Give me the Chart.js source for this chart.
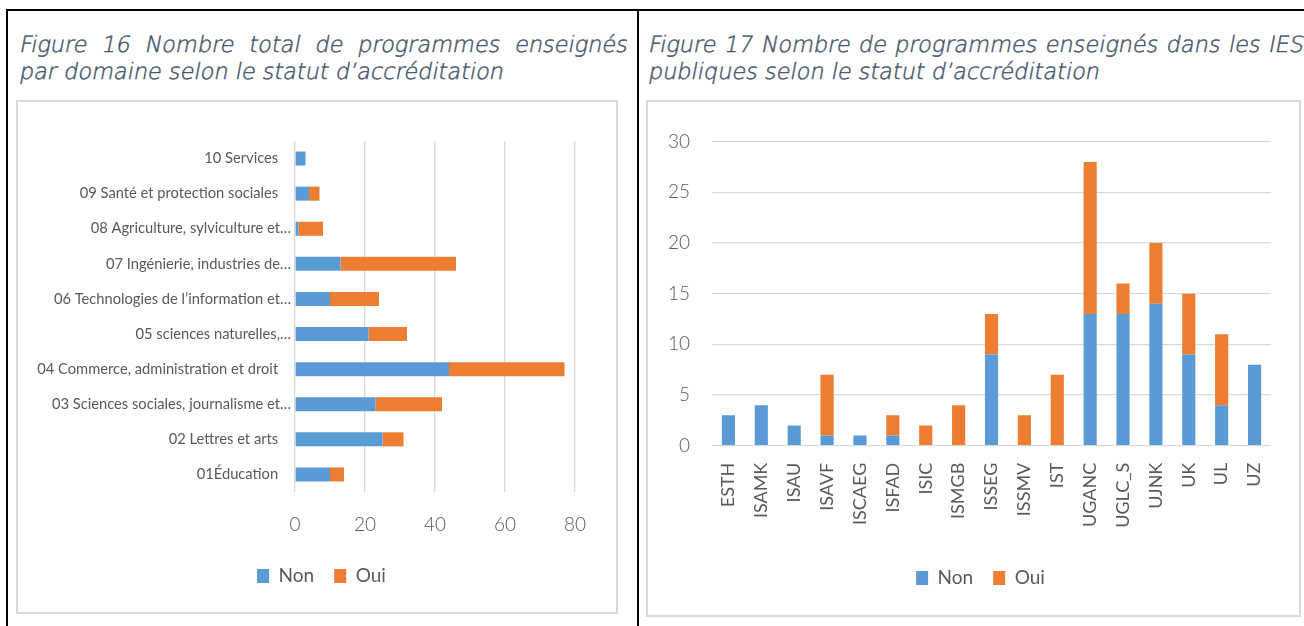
<!DOCTYPE html>
<html><head><meta charset="utf-8">
<script src="https://cdn.jsdelivr.net/npm/chart.js@4.4.1/dist/chart.umd.min.js"></script>
<style>
html,body{margin:0;padding:0;background:#fff;width:1304px;height:626px;overflow:hidden;}
.line{position:absolute;background:#000;}
.box{position:absolute;border:2px solid #D9D9D9;box-sizing:border-box;}
.title{position:absolute;font-family:"DejaVu Sans";font-style:normal;font-weight:200;color:#44546A;-webkit-text-stroke:0.45px #44546A;white-space:nowrap;line-height:1;transform:skewX(-11deg);transform-origin:0 100%;}
.just{text-align:justify;text-align-last:justify;white-space:normal;}
canvas{position:absolute;}
</style></head><body>
<div class="line" style="left:6px;top:9px;width:1298px;height:2px"></div>
<div class="line" style="left:6px;top:9px;width:2px;height:617px"></div>
<div class="line" style="left:637px;top:9px;width:2px;height:617px"></div>
<div class="box" style="left:16px;top:100px;width:602px;height:514px"></div>
<div class="box" style="left:646px;top:100px;width:655px;height:517px"></div>
<div id="t16a" class="title just" style="left:18px;width:608px">Figure 16 Nombre total de programmes enseignés</div>
<div id="t16b" class="title" style="left:18px">par domaine selon le statut d’accréditation</div>
<div id="t17a" class="title just" style="left:647px;width:655px">Figure 17 Nombre de programmes enseignés dans les IES</div>
<div id="t17b" class="title" style="left:647px">publiques selon le statut d’accréditation</div>
<canvas id="c1" width="597" height="509" style="left:18px;top:102px;width:597px;height:509px"></canvas>
<canvas id="c2" width="650" height="512" style="left:648px;top:102px;width:650px;height:512px"></canvas>
<script>
// ---- data ----
const domainLabels = ["01Éducation","02 Lettres et arts","03 Sciences sociales, journalisme et…","04 Commerce, administration et droit","05 sciences naturelles,…","06 Technologies de l’information et…","07 Ingénierie, industries de…","08 Agriculture, sylviculture et…","09 Santé et protection sociales","10 Services"];
const domainNon = [10,25,23,44,21,10,13,1,4,3];
const domainOui = [4,6,19,33,11,14,33,7,3,0];
const domainTicks = [0,20,40,60,80];

const iesLabels = ["ESTH","ISAMK","ISAU","ISAVF","ISCAEG","ISFAD","ISIC","ISMGB","ISSEG","ISSMV","IST","UGANC","UGLC_S","UJNK","UK","UL","UZ"];
const iesNon = [3,4,2,1,1,1,0,0,9,0,0,13,13,14,9,4,8];
const iesOui = [0,0,0,6,0,2,2,4,4,3,7,15,3,6,6,7,0];
const iesTicks = [0,5,10,15,20,25,30];

const seriesNames = ["Non","Oui"];
const colors = ["#5B9BD5","#ED7D31"];

// ---- titles sizing ----
(function(){
  const cx = document.createElement('canvas').getContext('2d');
  cx.font = '200 100px "DejaVu Sans"';
  const w = cx.measureText(document.getElementById('t17a').textContent).width;
  const size = 100*646/w;
  const asc = 0.846*size;
  const set=(id,base)=>{const e=document.getElementById(id);e.style.fontSize=size+'px';e.style.top=(base-asc)+'px';};
  set('t16a',52);set('t16b',79);set('t17a',52);set('t17b',79);
})();

Chart.defaults.font.family = 'Lato';
Chart.defaults.color = '#595959';
Chart.defaults.animation = false;

const grid = '#D9D9D9';
const legendShift = {id:'legendShift', afterLayout(chart, args, opts){
  const l = chart.legend; if (l && opts.dx){ l.left += opts.dx; l.right += opts.dx; }
}};

new Chart(document.getElementById('c1'), {
  type:'bar',
  data:{labels:domainLabels, datasets:[
    {label:seriesNames[0], data:domainNon, backgroundColor:colors[0]},
    {label:seriesNames[1], data:domainOui, backgroundColor:colors[1]}
  ]},
  plugins:[legendShift],
  options:{
    indexAxis:'y', responsive:false, maintainAspectRatio:false,
    datasets:{bar:{categoryPercentage:1, barPercentage:0.4}},
    layout:{padding:{left:0,right:40,top:39,bottom:15.5}},
    plugins:{
      legendShift:{dx:25},
      legend:{position:'bottom', labels:{boxWidth:12, boxHeight:14, padding:20, font:{size:19}, color:'#595959'}},
      tooltip:{enabled:false}
    },
    scales:{
      x:{stacked:true, min:0, max:80,
         afterBuildTicks:s=>{s.ticks=domainTicks.map(v=>({value:v}));},
         afterFit:s=>{s.height=54.5;},
         grid:{color:grid, lineWidth:1.3, drawTicks:false},
         border:{display:false},
         ticks:{padding:21, font:{size:19, weight:300}, color:'#595959'}},
      y:{stacked:true, reverse:true,
         afterFit:s=>{s.width=277;},
         grid:{display:false}, border:{display:false},
         ticks:{padding:-4, font:{size:14.7}, color:'#595959',
           callback:function(v){const l=this.getLabelForValue(v);return l.endsWith('…')?l:l+'\u2003\u2009';}}}
    }
  }
});

new Chart(document.getElementById('c2'), {
  type:'bar',
  data:{labels:iesLabels, datasets:[
    {label:seriesNames[0], data:iesNon, backgroundColor:colors[0]},
    {label:seriesNames[1], data:iesOui, backgroundColor:colors[1]}
  ]},
  plugins:[legendShift],
  options:{
    responsive:false, maintainAspectRatio:false,
    datasets:{bar:{categoryPercentage:1, barPercentage:0.4}},
    layout:{padding:{left:0,right:27,top:39.7,bottom:16.5}},
    plugins:{
      legendShift:{dx:21},
      legend:{position:'bottom', labels:{boxWidth:12, boxHeight:14, padding:20, font:{size:19}, color:'#595959'}},
      tooltip:{enabled:false}
    },
    scales:{
      x:{stacked:true,
         afterFit:s=>{s.height=102.8;},
         grid:{display:false}, border:{display:false},
         ticks:{padding:9, minRotation:90, maxRotation:90, autoSkip:false, font:{size:18}, color:'#595959'}},
      y:{stacked:true, min:0, max:30,
         afterBuildTicks:s=>{s.ticks=iesTicks.map(v=>({value:v}));},
         afterFit:s=>{s.width=64;},
         grid:{color:grid, lineWidth:1.3, drawTicks:false},
         border:{display:false},
         ticks:{padding:22, font:{size:19, weight:300}, color:'#595959'}}
    }
  }
});
</script>
</body></html>
